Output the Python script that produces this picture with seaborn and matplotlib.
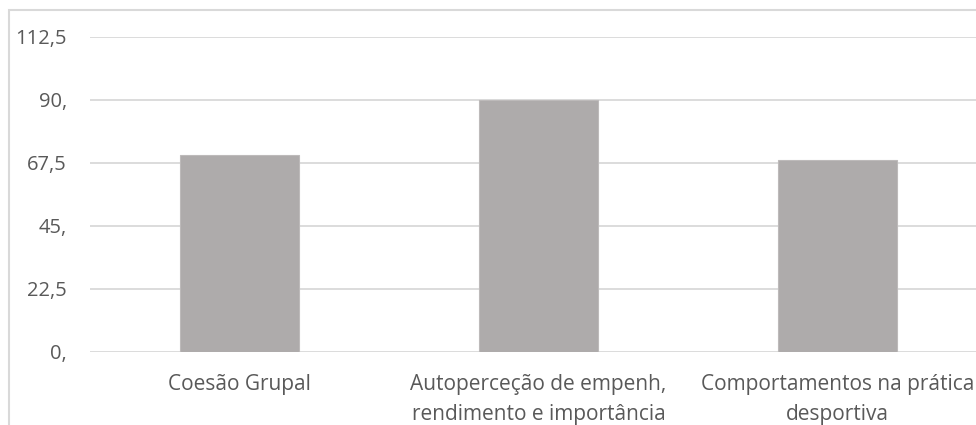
import matplotlib
matplotlib.use("Agg")
import matplotlib.pyplot as plt
from matplotlib.patches import Rectangle
import seaborn as sns
import pandas as pd

categories = [
    "Coesão Grupal",
    "Autoperceção de empenh,\nrendimento e importância",
    "Comportamentos na prática\ndesportiva",
]
values = [70.2, 89.8, 68.4]
y_ticks = [0, 22.5, 45, 67.5, 90, 112.5]
y_tick_labels = ["0,", "22,5", "45,", "67,5", "90,", "112,5"]

df = pd.DataFrame({"categoria": categories, "valor": values})

sns.set_theme(style="white")
plt.rcParams["font.family"] = ["Open Sans", "DejaVu Sans"]

W, H = 976, 425
fig = plt.figure(figsize=(W / 100, H / 100), dpi=100)

# outer chart frame
fig.patches.append(Rectangle((9 / W, -0.1), 1.2, 1 - 10 / H + 0.1,
                             transform=fig.transFigure, fill=False,
                             edgecolor="#D9D9D9", linewidth=1.5, zorder=0))

left, right = 90 / W, 987 / W
bottom, top = 1 - 351.5 / H, 1 - 36.5 / H
ax = fig.add_axes([left, bottom, right - left, top - bottom])

sns.barplot(data=df, x="categoria", y="valor", color="#AEABAB",
            width=0.4, saturation=1, edgecolor="#BDBABA", linewidth=0.8,
            ax=ax, zorder=3)

ax.set_xlim(-0.5, 2.5)
ax.set_ylim(0, 112.5)
ax.set_yticks(y_ticks)
ax.set_yticklabels(y_tick_labels)
ax.yaxis.grid(True, color="#D9D9D9", linewidth=1.3, zorder=0)
ax.set_axisbelow(True)
for s in ax.spines.values():
    s.set_visible(False)
ax.set_xlabel("")
ax.set_ylabel("")
ax.tick_params(axis="y", length=0, pad=16.5, labelsize=14.5, labelcolor="#595959")
ax.tick_params(axis="x", length=0, pad=16, labelsize=15, labelcolor="#595959")
for lbl in ax.get_xticklabels():
    lbl.set_linespacing(1.55)
ax.patch.set_alpha(0)

fig.savefig("out.png", dpi=100)
